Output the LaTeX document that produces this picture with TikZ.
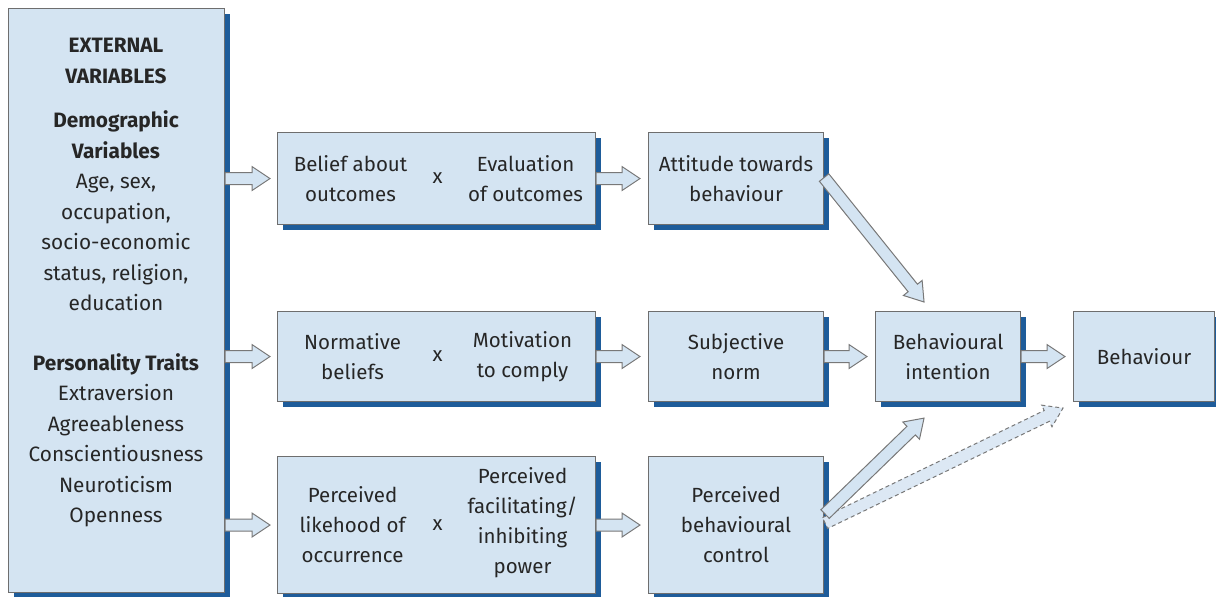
\documentclass[tikz,border=0pt]{standalone}
\usepackage{fontspec}
\setmainfont{Fira Sans}
\usetikzlibrary{calc,shadows}
\definecolor{boxfill}{HTML}{D4E4F2}
\definecolor{boxline}{HTML}{6E6E6E}
\definecolor{shadowblue}{HTML}{1E5C9A}
\definecolor{txt}{HTML}{262626}
\definecolor{arrowline}{HTML}{787878}
\definecolor{dashfill}{HTML}{DCE8F4}
\tikzset{
  box/.style={draw=boxline, line width=1.1pt, fill=boxfill, inner sep=0pt, anchor=north west,
    drop shadow={shadow xshift=5.5pt, shadow yshift=-5.5pt, fill=shadowblue, opacity=1}},
  label/.style={text=txt, font=\fontsize{20.5}{30}\selectfont, align=center, inner sep=0pt},
  extlabel/.style={label, font=\fontsize{20.8}{30.5}\selectfont},
  barrow/.style={fill=boxfill, draw=arrowline, line width=1pt, line join=miter},
  dasharrow/.style={fill=dashfill, draw=arrowline, line width=1pt, dash pattern=on 4pt off 3pt}
}
\newcommand\blockarrow[3][]{%
  \path ($(#3)!18pt!(#2)$) coordinate (baneck);
  \draw[barrow,#1] ($(#2)!6pt!90:(#3)$) -- ($(baneck)!6pt!90:(#3)$) -- ($(baneck)!12pt!90:(#3)$)
    -- (#3) -- ($(baneck)!12pt!-90:(#3)$) -- ($(baneck)!6pt!-90:(#3)$) -- ($(#2)!6pt!-90:(#3)$) -- cycle;}
\begin{document}
\begin{tikzpicture}[x=1pt,y=-1pt]
\useasboundingbox (0,0) rectangle (1216,597);
% boxes
\node[box, minimum width=216pt, minimum height=584pt] (ext) at (8,8) {};
\node[extlabel, anchor=north] (exttext) at (116,38) {\bfseries EXTERNAL\\ \bfseries VARIABLES\\[14pt]
  \bfseries Demographic\\ \bfseries Variables\\ Age, sex,\\ occupation,\\ socio-economic\\ status, religion,\\ education\\[29pt]
  \bfseries Personality Traits\\ Extraversion\\ Agreeableness\\ Conscientiousness\\ Neuroticism\\ Openness};

\node[box, minimum width=318pt, minimum height=92pt] (belief) at (277,132) {};
\node[label] (beliefL) at ($(belief.center)+(-86,0)$) {Belief about\\outcomes};
\node[label] (beliefX) at ($(belief.center)+(1,0)$) {x};
\node[label] (beliefR) at ($(belief.center)+(89,0)$) {Evaluation\\of outcomes};

\node[box, minimum width=175pt, minimum height=92pt] (att) at (648,132) {};
\node[label] (atttext) at (att.center) {Attitude towards\\behaviour};

\node[box, minimum width=318pt, minimum height=90pt] (norm) at (277,311) {};
\node[label] (normL) at ($(norm.center)+(-84,0)$) {Normative\\beliefs};
\node[label] (normX) at ($(norm.center)+(1,0)$) {x};
\node[label] (normR) at ($(norm.center)+(86,0)$) {Motivation\\to comply};

\node[box, minimum width=175pt, minimum height=90pt] (subj) at (648,311) {};
\node[label] (subjtext) at (subj.center) {Subjective\\norm};

\node[box, minimum width=318pt, minimum height=137pt] (perc) at (277,456) {};
\node[label] (percL) at ($(perc.center)+(-84,0)$) {Perceived\\likehood of\\occurrence};
\node[label] (percX) at ($(perc.center)+(1,0)$) {x};
\node[label] (percR) at ($(perc.center)+(86,-2)$) {Perceived\\facilitating/\\inhibiting\\power};

\node[box, minimum width=175pt, minimum height=137pt] (pbc) at (648,456) {};
\node[label] (pbctext) at (pbc.center) {Perceived\\behavioural\\control};

\node[box, minimum width=145pt, minimum height=90pt] (int) at (875,311) {};
\node[label] (inttext) at (int.center) {Behavioural\\intention};

\node[box, minimum width=141pt, minimum height=90pt] (beh) at (1073,311) {};
\node[label] (behtext) at (beh.center) {Behaviour};

% arrow end points
\coordinate (e1s) at (ext.east |- belief.west);
\coordinate (e1t) at ($(belief.west)+(-7,0)$);
\coordinate (e2s) at (ext.east |- norm.west);
\coordinate (e2t) at ($(norm.west)+(-7,0)$);
\coordinate (e3s) at (ext.east |- perc.west);
\coordinate (e3t) at ($(perc.west)+(-7,0)$);
\coordinate (r1s) at (belief.east);
\coordinate (r1t) at ($(att.west)+(-8,0)$);
\coordinate (r2s) at (norm.east);
\coordinate (r2t) at ($(subj.west)+(-8,0)$);
\coordinate (r3s) at (perc.east);
\coordinate (r3t) at ($(pbc.west)+(-8,0)$);
\coordinate (s1s) at (subj.east);
\coordinate (s1t) at ($(int.west)+(-8,0)$);
\coordinate (i1s) at (int.east);
\coordinate (i1t) at ($(beh.west)+(-8,0)$);
\coordinate (d1s) at ($(att.east)+(0,-1)$);
\coordinate (d1t) at ($(int.north)+(-24,-9)$);
\coordinate (d2s) at ($(pbc.east)+(1,-11)$);
\coordinate (d2t) at ($(int.south)+(-24,16)$);
\coordinate (d3s) at ($(pbc.east)+(1,-2)$);
\coordinate (d3t) at ($(beh.south west)+(-10,6)$);

\blockarrow{e1s}{e1t}
\blockarrow{e2s}{e2t}
\blockarrow{e3s}{e3t}
\blockarrow{r1s}{r1t}
\blockarrow{r2s}{r2t}
\blockarrow{r3s}{r3t}
\blockarrow{s1s}{s1t}
\blockarrow{i1s}{i1t}
\blockarrow{d1s}{d1t}
\blockarrow[dasharrow]{d3s}{d3t}
\blockarrow{d2s}{d2t}
\end{tikzpicture}
\end{document}
